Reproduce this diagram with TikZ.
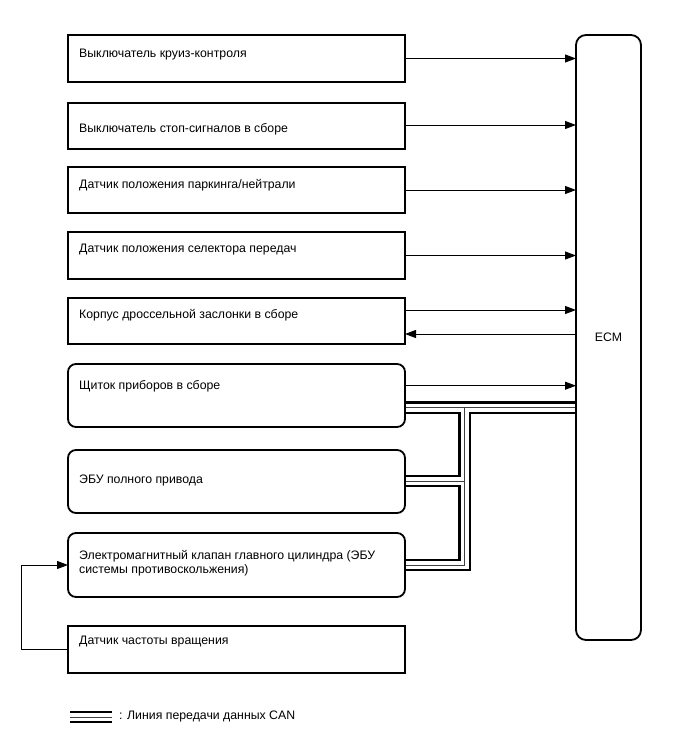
\documentclass[tikz,border=0pt]{standalone}
\usepackage{fontspec}
\setmainfont{Liberation Sans}
\usetikzlibrary{arrows.meta,calc,backgrounds}
\begin{document}
\begin{tikzpicture}[x=1pt,y=-1pt,
  box/.style={draw,line width=1.8pt,outer sep=0pt,inner sep=0pt,minimum width=337pt,anchor=north west},
  rbox/.style={box,rounded corners=8pt},
  lbl/.style={anchor=west,inner sep=0pt,font=\fontsize{12.3}{14.5}\selectfont,align=left},
  arr/.style={line width=1pt,-{Triangle[length=11pt,width=8pt]}},
]
\useasboundingbox (0,0) rectangle (688,755);

% left column boxes
\node[box,minimum height=47pt] (b1) at (68,35) {};
\node[box,minimum height=46pt] (b2) at (68,103) {};
\node[box,minimum height=46pt] (b3) at (68,167) {};
\node[box,minimum height=47pt] (b4) at (68,232) {};
\node[box,minimum height=46pt] (b5) at (68,298) {};
\node[rbox,minimum height=63pt] (b6) at (68,364) {};
\node[rbox,minimum height=63pt] (b7) at (68,450) {};
\node[rbox,minimum height=64pt] (b8) at (68,533) {};
\node[box,minimum height=47pt] (b9) at (68,626) {};

% ECM
\node[draw,line width=1.8pt,outer sep=0pt,inner sep=0pt,rounded corners=10pt,
      minimum width=65pt,minimum height=605pt,anchor=north west] (ecm) at (576,35) {};
\node[font=\fontsize{12.3}{14}\selectfont] (ecmt) at (ecm.center) {ECM};

% labels
\node[lbl] (t1) at (79,55) {Выключатель круиз-контроля};
\node[lbl] (t2) at (79,129) {Выключатель стоп-сигналов в сборе};
\node[lbl] (t3) at (79,185) {Датчик положения паркинга/нейтрали};
\node[lbl] (t4) at (79,250) {Датчик положения селектора передач};
\node[lbl] (t5) at (79,315) {Корпус дроссельной заслонки в сборе};
\node[lbl] (t6) at (79,386) {Щиток приборов в сборе};
\node[lbl] (t7) at (79,480) {ЭБУ полного привода};
\node[lbl] (t8) at (79,563) {Электромагнитный клапан главного цилиндра (ЭБУ\\системы противоскольжения)};
\node[lbl] (t9) at (79,642) {Датчик частоты вращения};

% signal arrows
\draw[arr] (b1.east) -- (ecm.west |- b1.east);
\draw[arr] (b2.east |- 0,125) -- (ecm.west |- 0,125);
\draw[arr] (b3.east) -- (ecm.west |- b3.east);
\draw[arr] (b4.east) -- (ecm.west |- b4.east);
\draw[arr] (b5.east |- 0,310) -- (ecm.west |- 0,310);
\draw[arr] (ecm.west |- 0,334) -- (b5.east |- 0,334);
\draw[arr] (b6.east |- 0,385.7) -- (ecm.west |- 0,385.7);

% feedback from speed sensor
\coordinate (fbx) at (21,0);
\draw[arr] (b9.west) -- (b9.west -| fbx) -- (b8.west -| fbx) -- (b8.west);

% CAN bus
\coordinate (j1) at (464.5,407.7);
\coordinate (j2) at (464.5,481);
\coordinate (j3) at (464.5,565);
\coordinate (lg1) at (70,717);
\coordinate (lg2) at (112,717);
\begin{pgfonlayer}{background}
\foreach \w/\c in {12.5pt/black, 8pt/white, 0.9pt/black!75} {
  \draw[line width=\w, color=\c]
    (b6.east |- j1) -- (ecm.west |- j1)
    (j1) -- (j3) -- (b8.east |- j3)
    (j2) -- (b7.east |- j2)
    (lg1) -- (lg2);
}
\end{pgfonlayer}
\node[lbl] (lgt) at (119,716) {: Линия передачи данных CAN};
\end{tikzpicture}
\end{document}
